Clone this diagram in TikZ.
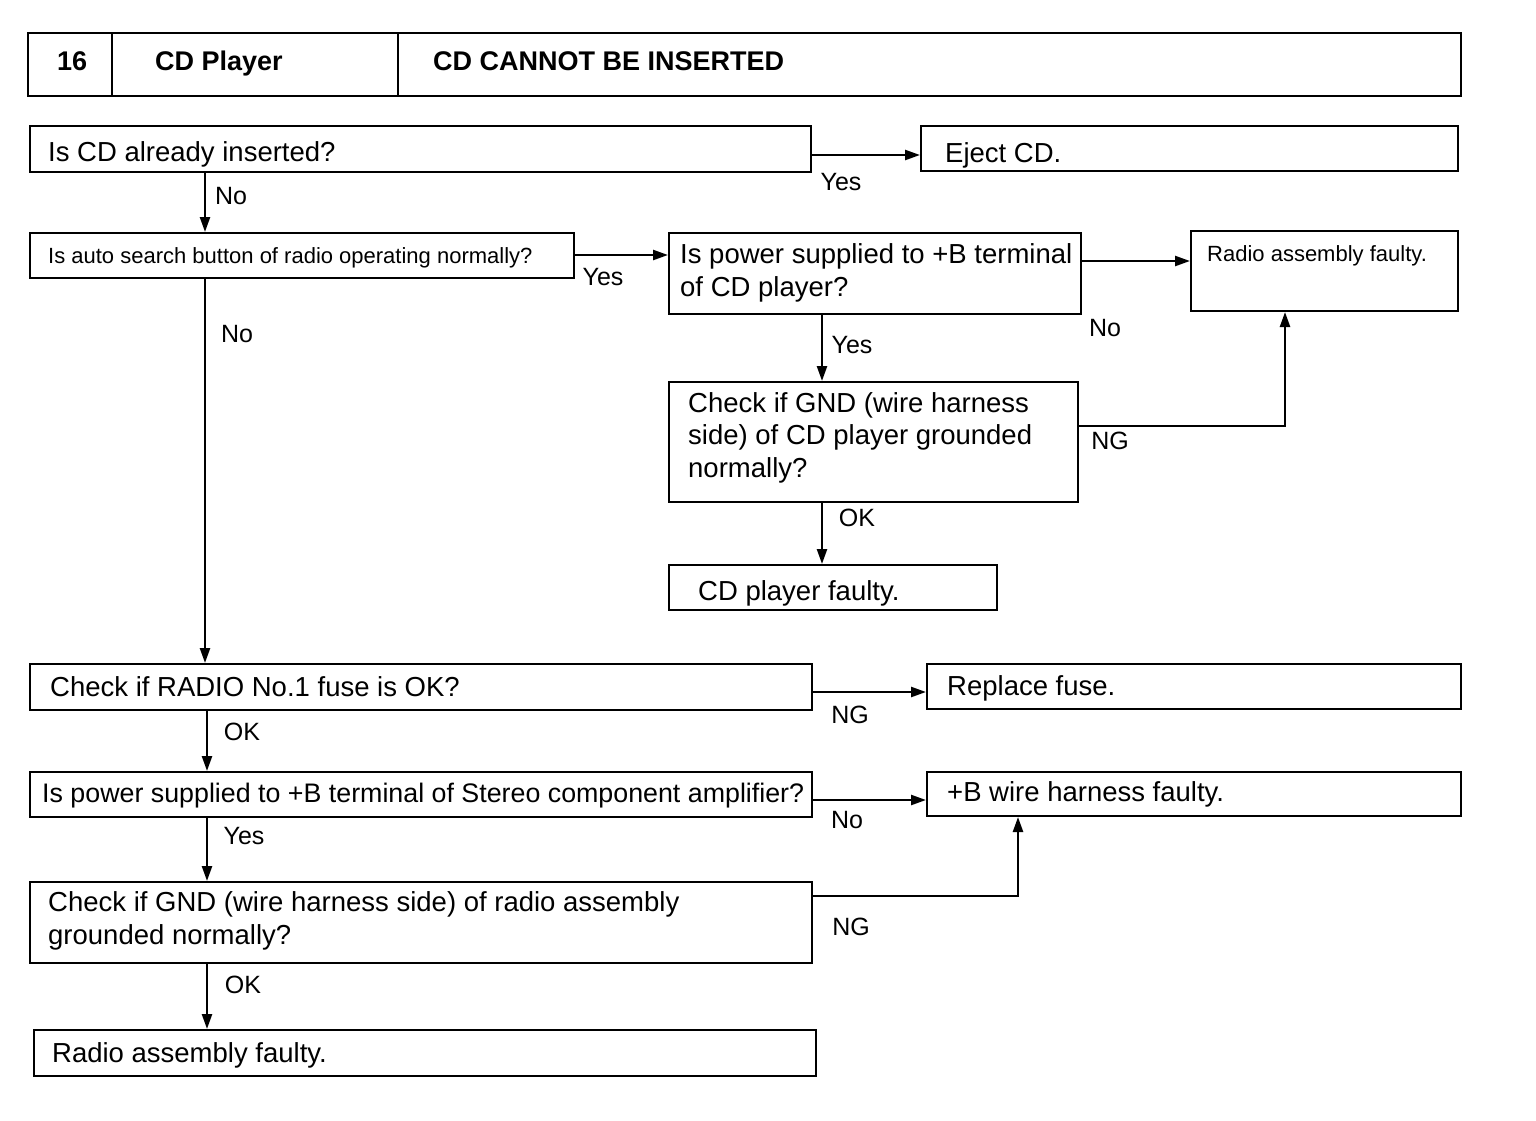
\documentclass[tikz,border=0pt]{standalone}
\usepackage{fontspec}
\setmainfont{Liberation Sans}
\usetikzlibrary{arrows.meta}
\tikzset{
  box/.style={draw, line width=2pt, rectangle, anchor=north west, inner sep=0pt},
  txt/.style={anchor=base west, inner sep=0pt, align=left, font=\fontsize{27.5}{32.5}\selectfont},
  smalltxt/.style={anchor=base west, inner sep=0pt, font=\fontsize{22}{26}\selectfont},
  hdrtxt/.style={anchor=base west, inner sep=0pt, font=\fontsize{27}{32}\selectfont\bfseries},
  lbl/.style={anchor=center, inner sep=0pt, font=\fontsize{25}{30}\selectfont},
  arr/.style={line width=2.4pt, -{Triangle[length=15pt,width=10pt]}}
}
\begin{document}
\begin{tikzpicture}[x=1pt,y=-1pt]
\useasboundingbox[fill=white] (0,0) rectangle (1536,1120);
% header
\node[box, minimum width=1433, minimum height=63] (hdr) at (27,32) {};
\draw[line width=1.5pt] (112,0 |- hdr.north) -- (112,0 |- hdr.south);
\draw[line width=1.5pt] (398,0 |- hdr.north) -- (398,0 |- hdr.south);
\node[hdrtxt] (h1) at (57,70) {16};
\node[hdrtxt] (h2) at (155,70) {CD Player};
\node[hdrtxt] (h3) at (433,70) {CD CANNOT BE INSERTED};
% boxes
\node[box, minimum width=781, minimum height=46] (a) at (29,125) {};
\node[txt] (at) at (48,161) {Is CD already inserted?};
\node[box, minimum width=537, minimum height=45] (ej) at (920,125) {};
\node[txt] (ejt) at (945,162) {Eject CD.};
\node[box, minimum width=544, minimum height=45] (b) at (29,232) {};
\node[smalltxt] (bt) at (48,263.5) {Is auto search button of radio operating normally?};
\node[box, minimum width=412, minimum height=81] (c) at (668,232) {};
\node[txt] (ct) at (680,296) {Is power supplied to +B terminal\\of CD player?};
\node[box, minimum width=267, minimum height=80] (d) at (1190,230) {};
\node[smalltxt] (dt) at (1207,261) {Radio assembly faulty.};
\node[box, minimum width=409, minimum height=120] (e) at (668,381) {};
\node[txt] (et) at (688,477) {Check if GND (wire harness\\side) of CD player grounded\\normally?};
\node[box, minimum width=328, minimum height=45] (f) at (668,564) {};
\node[txt] (ft) at (698,600) {CD player faulty.};
\node[box, minimum width=782, minimum height=46] (g) at (29,663) {};
\node[txt] (gt) at (50,696) {Check if RADIO No.1 fuse is OK?};
\node[box, minimum width=534, minimum height=45] (h) at (926,663) {};
\node[txt] (ht) at (947,695) {Replace fuse.};
\node[box, minimum width=782, minimum height=45] (i) at (29,771) {};
\node[txt, font=\fontsize{26.8}{32}\selectfont] (it) at (42,802) {Is power supplied to +B terminal of Stereo component amplifier?};
\node[box, minimum width=534, minimum height=44] (j) at (926,771) {};
\node[txt] (jt) at (947,801) {+B wire harness faulty.};
\node[box, minimum width=782, minimum height=81] (k) at (29,881) {};
\node[txt] (kt) at (48,944) {Check if GND (wire harness side) of radio assembly\\grounded normally?};
\node[box, minimum width=782, minimum height=46] (l) at (33,1029) {};
\node[txt] (lt) at (52,1062) {Radio assembly faulty.};
% connectors
\draw[arr] (a.east |- 0,155) -- (ej.west |- 0,155);
\draw[arr] (a.south -| 205,0) -- (b.north -| 205,0);
\draw[arr] (b.east |- 0,255) -- (c.west |- 0,255);
\draw[arr] (c.east |- 0,261) -- (d.west |- 0,261);
\draw[arr] (c.south -| 822,0) -- (e.north -| 822,0);
\draw[arr] (e.east |- 0,426) -| (d.south -| 1285,0);
\draw[arr] (e.south -| 822,0) -- (f.north -| 822,0);
\draw[arr] (b.south -| 205,0) -- (g.north -| 205,0);
\draw[arr] (g.east |- 0,692) -- (h.west |- 0,692);
\draw[arr] (g.south -| 207,0) -- (i.north -| 207,0);
\draw[arr] (i.east |- 0,800) -- (j.west |- 0,800);
\draw[arr] (i.south -| 207,0) -- (k.north -| 207,0);
\draw[arr] (k.east |- 0,896) -| (j.south -| 1018,0);
\draw[arr] (k.south -| 207,0) -- (l.north -| 207,0);
% labels
\node[lbl] (l1) at (841,182) {Yes};
\node[lbl] (l2) at (231,196) {No};
\node[lbl] (l3) at (603,277) {Yes};
\node[lbl] (l4) at (1105,328) {No};
\node[lbl] (l5) at (852,345) {Yes};
\node[lbl] (l6) at (1110,441) {NG};
\node[lbl] (l7) at (857,518) {OK};
\node[lbl] (l8) at (237,334) {No};
\node[lbl] (l9) at (850,715) {NG};
\node[lbl] (l10) at (242,732) {OK};
\node[lbl] (l11) at (847,820) {No};
\node[lbl] (l12) at (244,836) {Yes};
\node[lbl] (l13) at (851,927) {NG};
\node[lbl] (l14) at (243,985) {OK};
\end{tikzpicture}
\end{document}
